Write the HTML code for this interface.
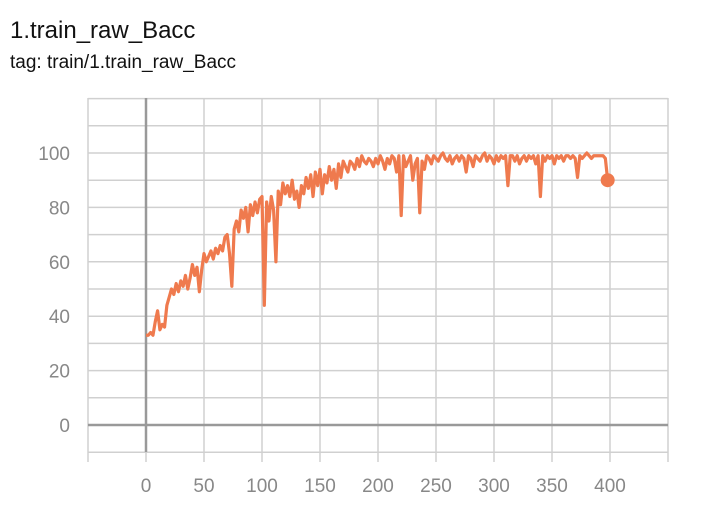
<!DOCTYPE html>
<html><head><meta charset="utf-8"><style>
body{margin:0;background:#fff;width:704px;height:510px;overflow:hidden;font-family:"Liberation Sans",sans-serif}
#t{position:absolute;left:10px;top:17px;font-size:24px;color:#111}
#s{position:absolute;left:10px;top:52px;font-size:19px;color:#111}
</style></head><body>
<div id="t">1.train_raw_Bacc</div>
<div id="s">tag: train/1.train_raw_Bacc</div>
<svg id="c" width="704" height="510" style="position:absolute;left:0;top:0"></svg>
<script>
const stepSize=2;
const values=[33,33,34,33,38,42,35,37,36,44,
47,50,48,52,49,53,51,55,50,54,
59,55,58,49,57,63,60,62,64,61,
65,63,66,64,69,70,63,51,72,75,
71,79,76,80,71,81,77,82,78,83,
84,44,82,75,84,79,60,86,81,89,
85,88,84,90,83,86,80,88,85,91,
87,92,84,93,88,94,85,92,89,95,
90,94,87,96,91,97,95,93,97,96,
94,98,95,99,97,96,98,97,95,98,
96,99,97,94,98,96,99,98,93,99,
77,99,95,97,99,90,96,98,78,97,
94,99,98,96,99,98,97,99,100,98,
97,99,96,98,99,97,99,98,93,99,
98,95,99,98,97,99,100,97,99,98,
96,99,97,99,98,99,88,99,99,97,
99,96,98,99,97,99,98,99,96,99,
84,99,97,99,98,99,96,99,98,99,
97,99,99,98,99,98,91,99,98,99,
100,99,98,99,99,99,99,99,98,90];
const xTicks=[0,50,100,150,200,250,300,350,400];
const yTicks=[0,20,40,60,80,100];
const ns='http://www.w3.org/2000/svg',svg=document.getElementById('c');
const X=v=>146+v*1.16, Y=v=>425-v*2.72;
function mk(t,a){const e=document.createElementNS(ns,t);for(const k in a)e.setAttribute(k,a[k]);svg.appendChild(e);return e;}
for(let v=-50;v<=450;v+=50){const l=mk('line',{x1:X(v),x2:X(v),y1:98,y2:462,stroke:'#d0d0d0','stroke-width':1.5});

}
for(let v=-10;v<=120;v+=10){const l=mk('line',{x1:88,x2:668,y1:Y(v),y2:Y(v),stroke:'#d0d0d0','stroke-width':1.5});

}
const ya=mk('line',{x1:X(0),x2:X(0),y1:98,y2:452,stroke:'#999','stroke-width':2.5});


const xa=mk('line',{x1:88,x2:668,y1:Y(0),y2:Y(0),stroke:'#999','stroke-width':2.5});


xTicks.forEach(v=>{const t=mk('text',{x:X(v),y:492,'text-anchor':'middle','font-size':19,fill:'#888'});t.textContent=v;

});
yTicks.forEach(v=>{const t=mk('text',{x:70,y:Y(v)+7,'text-anchor':'end','font-size':19,fill:'#888'});t.textContent=v;

});
const pts=values.map((v,i)=>X(i*stepSize)+','+Y(v)).join(' ');
const p=mk('polyline',{points:pts,fill:'none',stroke:'#ef7a4e','stroke-width':3.2,'stroke-linejoin':'round'});


const n=values.length-1;
const d=mk('circle',{cx:X(n*stepSize),cy:Y(values[n]),r:7,fill:'#ef7a4e'});


</script>
</body></html>
